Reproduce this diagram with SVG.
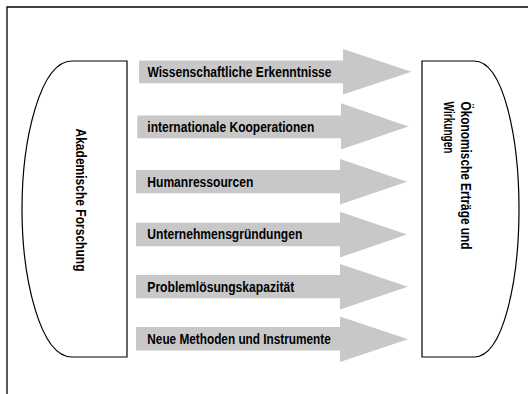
<svg xmlns="http://www.w3.org/2000/svg" width="528" height="394" viewBox="0 0 528 394">
<style>
.frame{fill:none;stroke:#000;stroke-width:1.3}
.node{fill:#fff;stroke:#000;stroke-width:1.2}
.arrow{fill:#c8c8c8}
.lbl{font-family:"Liberation Sans Narrow","Liberation Sans",Arial,sans-serif;font-weight:bold;font-size:14px;fill:#000}
</style>
<rect width="528" height="394" fill="#fff"/>
<path class="frame" d="M7,394 V7 H528"/>
<g id="node-akademische-forschung">
<path class="node" d="M127,61 H72 C40,61 22,140 22,209 C22,278 40,357 72,357 H127 Z"/>
<text class="lbl" transform="translate(75.5,128.5) rotate(90)" textLength="143" lengthAdjust="spacingAndGlyphs">Akademische Forschung</text>
</g>
<g id="node-oekonomische-ertraege">
<path class="node" d="M422,61 H474 C504,61 519,140 519,209 C519,278 504,357 474,357 H422 Z"/>
<text class="lbl" transform="translate(460.5,101.5) rotate(90)" textLength="148" lengthAdjust="spacingAndGlyphs">Ökonomische Erträge und</text>
<text class="lbl" transform="translate(443.5,101.5) rotate(90)" textLength="52" lengthAdjust="spacingAndGlyphs">Wirkungen</text>
</g>
<g id="connectors">
<g id="arrow-1">
<path class="arrow" d="M139,60.5 H343 V49 L411.5,71.7 L343,94.5 V83.3 H139 Z"/>
<text class="lbl" x="147.5" y="77.3" textLength="184" lengthAdjust="spacingAndGlyphs">Wissenschaftliche Erkenntnisse</text>
</g>
<g id="arrow-2">
<path class="arrow" d="M137.3,115.5 H341 V103.3 L408.5,126.5 L341,149.5 V138.3 H137.3 Z"/>
<text class="lbl" x="147.3" y="131.7" textLength="167" lengthAdjust="spacingAndGlyphs">internationale Kooperationen</text>
</g>
<g id="arrow-3">
<path class="arrow" d="M136,170 H340 V159 L407,181.7 L340,204.5 V193.3 H136 Z"/>
<text class="lbl" x="147.3" y="186.7" textLength="106" lengthAdjust="spacingAndGlyphs">Humanressourcen</text>
</g>
<g id="arrow-4">
<path class="arrow" d="M136,222.7 H340 V211.7 L407,234.6 L340,257.4 V246.3 H136 Z"/>
<text class="lbl" x="147.3" y="238.5" textLength="155" lengthAdjust="spacingAndGlyphs">Unternehmensgründungen</text>
</g>
<g id="arrow-5">
<path class="arrow" d="M136,275 H340 V264 L408,286.7 L340,309.4 V298.3 H136 Z"/>
<text class="lbl" x="147.3" y="291.7" textLength="147" lengthAdjust="spacingAndGlyphs">Problemlösungskapazität</text>
</g>
<g id="arrow-6">
<path class="arrow" d="M136,327 H340 V316.5 L408,339.3 L340,362 V350.5 H136 Z"/>
<text class="lbl" x="147.3" y="343.5" textLength="183.5" lengthAdjust="spacingAndGlyphs">Neue Methoden und Instrumente</text>
</g>
</g>
</svg>
